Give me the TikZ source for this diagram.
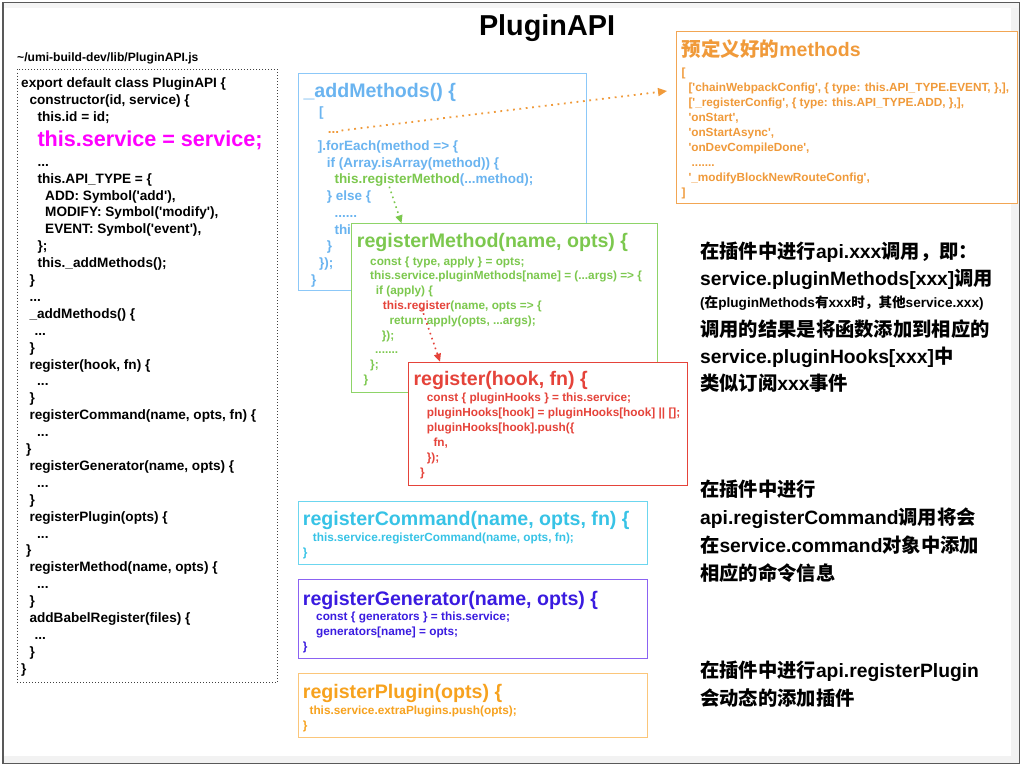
\documentclass[tikz,border=0pt]{standalone}
\usepackage{fontspec}
\newfontfamily\hv{Liberation Sans}[Ligatures=TeXOff]
\newfontfamily\cjk{Noto Sans CJK SC}
\usepackage{tikz}
\usetikzlibrary{arrows.meta,positioning}
\definecolor{svcPink}{HTML}{FF00FF}
\definecolor{amBlue}{HTML}{6AB4F0}
\definecolor{amLine}{HTML}{8CC8F8}
\definecolor{rmGreen}{HTML}{7CC84E}
\definecolor{rmLine}{HTML}{8ED468}
\definecolor{regRed}{HTML}{E5433A}
\definecolor{preOrange}{HTML}{F09A3A}
\definecolor{preLine}{HTML}{F2A654}
\definecolor{cmdCyan}{HTML}{37C3E6}
\definecolor{cmdLine}{HTML}{6CD6EF}
\definecolor{genPurple}{HTML}{3A1BE0}
\definecolor{genLine}{HTML}{8B62F2}
\definecolor{plgOrange}{HTML}{F7A21E}
\definecolor{plgLine}{HTML}{FBC67A}
\newcommand{\zh}[1]{{\cjk #1}}
\newcommand{\ind}[1]{\hspace*{#1pt}}

\begin{document}
\begin{tikzpicture}[x=1pt, y=-1pt,
  box/.style={anchor=north west, inner sep=0pt, line width=1pt, fill=white},
  ttl/.style={anchor=base west, inner sep=0pt, font=\hv\bfseries\fontsize{19.6}{23}\selectfont},
  src/.style={anchor=north west, inner sep=0pt, align=left, font=\hv\bfseries\fontsize{13.6}{16.9}\selectfont},
  srcsm/.style={anchor=north west, inner sep=0pt, align=left, font=\hv\bfseries\fontsize{11.8}{15}\selectfont},
  remark/.style={anchor=north west, inner sep=0pt, align=left, font=\hv\bfseries\fontsize{19.3}{27}\selectfont},
  dots/.style={line width=1.8pt, dash pattern=on 1.8pt off 4.6pt, -{Triangle[length=9pt,width=8pt]}}
]
  \useasboundingbox (0,0) rectangle (1024,768);
  \fill[black!5] (1011,3) rectangle (1019,763);
  \fill[black!5] (3,756) rectangle (1019,763);
  \fill[black!4] (3,3) rectangle (1019,8);
  \draw[black!65, line width=1.6pt] (3,2.5) rectangle (1019.5,763.5);

  \node[anchor=base, inner sep=0pt, font=\hv\bfseries\fontsize{28.8}{32}\selectfont] (title) at (547,35.5) {PluginAPI};
  \node[anchor=base west, inner sep=0pt, font=\hv\bfseries\fontsize{12.1}{14}\selectfont] (path) at (17,61.5) {\textasciitilde/umi-build-dev/lib/PluginAPI.js};

  \node[box, fill=none, draw=black!75, dotted, line width=0.8pt, minimum width=260.6, minimum height=612.7] (cls) at (16.7,69) {};
  \node[src] (clsa) at (21,75.9) {\strut export default class PluginAPI \{\\
    \ind{8.3}constructor(id, service) \{\\
    \ind{16.3}this.id = id;};
  \node[anchor=base west, inner sep=0pt, text=svcPink, font=\hv\bfseries\fontsize{21.6}{25}\selectfont] (svc) at (37.3,146) {this.service = service;};
  \node[src] (clsb) at (21,154.2) {\strut\ind{16.3}...\\
    \ind{16.3}this.API\_TYPE = \{\\
    \ind{24}ADD: Symbol('add'),\\
    \ind{24}MODIFY: Symbol('modify'),\\
    \ind{24}EVENT: Symbol('event'),\\
    \ind{16.3}\};\\
    \ind{16.3}this.\_addMethods();\\
    \ind{8.3}\}\\
    \ind{8.3}...\\
    \ind{8.3}\_addMethods() \{\\
    \ind{13.3}...\\
    \ind{8.3}\}\\
    \ind{8.3}register(hook, fn) \{\\
    \ind{16}...\\
    \ind{8.3}\}\\
    \ind{8.3}registerCommand(name, opts, fn) \{\\
    \ind{16}...\\
    \ind{5}\}\\
    \ind{8.3}registerGenerator(name, opts) \{\\
    \ind{16}...\\
    \ind{8.3}\}\\
    \ind{8.3}registerPlugin(opts) \{\\
    \ind{16}...\\
    \ind{5}\}\\
    \ind{8.3}registerMethod(name, opts) \{\\
    \ind{16}...\\
    \ind{8.3}\}\\
    \ind{8.3}addBabelRegister(files) \{\\
    \ind{13.3}...\\
    \ind{8.3}\}\\
    \}};

  \node[box, draw=amLine, minimum width=288, minimum height=217.3] (am) at (297.7,72.7) {};
  \node[ttl, text=amBlue] (amt) at (303.3,97.3) {\_addMethods() \{};
  \node[src, text=amBlue, font=\hv\bfseries\fontsize{13.5}{16.73}\selectfont] (amb) at (311,105) {\strut\ind{8}[\\
    \ind{16.7}{\color{preOrange}...}\\
    \ind{6.7}].forEach(method => \{\\
    \ind{15.7}if (Array.isArray(method)) \{\\
    \ind{23.3}{\color{rmGreen}this.registerMethod}(...method);\\
    \ind{15.7}\} else \{\\
    \ind{23.3}......\\
    \ind{23.3}thi\\
    \ind{15.7}\}\\
    \ind{8}\});\\
    \}};

  \node[box, draw=preLine, minimum width=341.3, minimum height=172.3] (pre) at (676,31) {};
  \node[ttl, text=preOrange, font=\hv\bfseries\fontsize{19.5}{23}\selectfont] (pret) at (681.7,56.7) {\zh{预定义好的}methods};
  \node[srcsm, text=preOrange] (preb) at (681.5,66.2) {\strut{[}\\
    \ind{6.8}['chainWebpackConfig', \{ type: this.API\_TYPE.EVENT, \},],\\
    \ind{6.8}['\_registerConfig', \{ type: this.API\_TYPE.ADD, \},],\\
    \ind{6.8}'onStart',\\
    \ind{6.8}'onStartAsync',\\
    \ind{6.8}'onDevCompileDone',\\
    \ind{10}.......\\
    \ind{6.8}'\_modifyBlockNewRouteConfig',\\
    ]};

  \coordinate (odot) at (341.5,130.5);
  \coordinate (otip) at (667,91);
  \draw[dots, preOrange] (odot) -- (otip);

  \node[box, draw=rmLine, minimum width=305.7, minimum height=168.4] (rm) at (351,223.3) {};
  \node[ttl, text=rmGreen] (rmt) at (356.7,247.7) {registerMethod(name, opts) \{};
  \node[srcsm, text=rmGreen, font=\hv\bfseries\fontsize{11.8}{14.8}\selectfont] (rmb) at (363.3,254.6) {\strut\ind{6.7}const \{ type, apply \} = opts;\\
    \ind{6.7}this.service.pluginMethods[name] = (...args) => \{\\
    \ind{12.4}if (apply) \{\\
    \ind{19.4}{\color{regRed}this.register}(name, opts => \{\\
    \ind{26}return apply(opts, ...args);\\
    \ind{18.4}\});\\
    \ind{11.7}.......\\
    \ind{6.7}\};\\
    \}};

  \coordinate (gdot) at (389.3,186.7);
  \coordinate (gtip) at (401.5,223.3);
  \draw[dots, rmGreen, line width=1.6pt, dash pattern=on 1.6pt off 3.6pt, -{Triangle[length=8pt,width=7pt]}] (gdot) -- (gtip);

  \node[box, draw=regRed, minimum width=279, minimum height=123.3] (reg) at (408.3,361.7) {};
  \node[ttl, text=regRed] (regt) at (413.3,385.7) {register(hook, fn) \{};
  \node[srcsm, text=regRed] (regb) at (420,391.2) {\strut\ind{6.7}const \{ pluginHooks \} = this.service;\\
    \ind{6.7}pluginHooks[hook] = pluginHooks[hook] || [];\\
    \ind{6.7}pluginHooks[hook].push(\{\\
    \ind{13.3}fn,\\
    \ind{6.7}\});\\
    \}};

  \coordinate (rdot) at (421.7,308.3);
  \coordinate (rtip) at (440,361.7);
  \draw[dots, regRed, line width=1.6pt, dash pattern=on 1.6pt off 3.6pt, -{Triangle[length=8pt,width=7pt]}] (rdot) -- (rtip);

  \node[box, draw=cmdLine, minimum width=349, minimum height=63.3] (cmd) at (298.3,500.7) {};
  \node[ttl, text=cmdCyan] (cmdt) at (302.7,525) {registerCommand(name, opts, fn) \{};
  \node[srcsm, text=cmdCyan, font=\hv\bfseries\fontsize{11.8}{14.3}\selectfont] (cmdb) at (302.7,531.7) {\strut\ind{10}this.service.registerCommand(name, opts, fn);\\
    \}};

  \node[box, draw=genLine, minimum width=349, minimum height=79] (gen) at (298.3,579.3) {};
  \node[ttl, text=genPurple] (gent) at (302.7,605) {registerGenerator(name, opts) \{};
  \node[srcsm, text=genPurple] (genb) at (302.7,610.2) {\strut\ind{13.3}const \{ generators \} = this.service;\\
    \ind{13.3}generators[name] = opts;\\
    \}};

  \node[box, draw=plgLine, minimum width=349, minimum height=64] (plg) at (298.3,672.7) {};
  \node[ttl, text=plgOrange] (plgt) at (302.7,698.3) {registerPlugin(opts) \{};
  \node[srcsm, text=plgOrange] (plgb) at (302.7,703.5) {\strut\ind{6.7}this.service.extraPlugins.push(opts);\\
    \}};

  \node[remark] (r1a) at (700,239.4) {\strut\zh{在插件中进行}api.xxx\zh{调用，即：}\\
    service.pluginMethods[xxx]\zh{调用}};
  \node[anchor=base west, inner sep=0pt, font=\hv\bfseries\fontsize{13.6}{16}\selectfont] (r1n) at (700,307.7) {(\zh{在}pluginMethods\zh{有}xxx\zh{时，其他}service.xxx)};
  \node[remark] (r1b) at (700,317.1) {\strut\zh{调用的结果是将函数添加到相应的}\\
    service.pluginHooks[xxx]\zh{中}\\
    \zh{类似订阅}xxx\zh{事件}};
  \node[remark, font=\hv\bfseries\fontsize{19.3}{28}\selectfont] (r2) at (700,476.4) {\strut\zh{在插件中进行}\\
    api.registerCommand\zh{调用将会}\\
    \zh{在}service.command\zh{对象中添加}\\
    \zh{相应的命令信息}};
  \node[remark, font=\hv\bfseries\fontsize{19.3}{28}\selectfont] (r3) at (700,657.4) {\strut\zh{在插件中进行}api.registerPlugin\\
    \zh{会动态的添加插件}};
\end{tikzpicture}
\end{document}
